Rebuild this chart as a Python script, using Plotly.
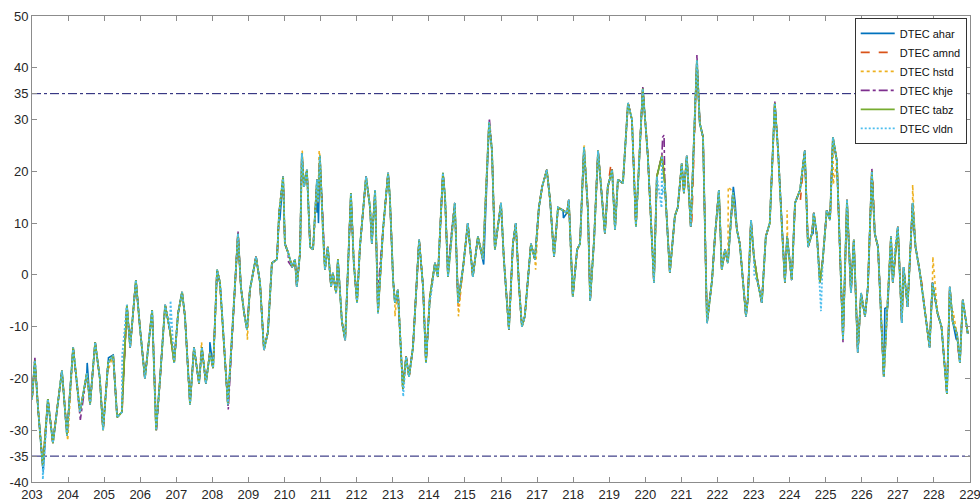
import plotly.graph_objects as go

# Day of year (x) and DTEC base values (tabz, the common curve)
days = [203.00, 203.08, 203.17, 203.30, 203.44, 203.58, 203.83, 203.97, 204.14, 204.33,
        204.52, 204.61, 204.75, 204.88, 204.97, 205.11, 205.25, 205.36, 205.49, 205.63,
        205.72, 205.88, 205.99, 206.13, 206.33, 206.44, 206.55, 206.69, 206.82, 206.94,
        207.05, 207.16, 207.24, 207.38, 207.49, 207.63, 207.71, 207.82, 207.93, 208.02,
        208.13, 208.21, 208.43, 208.57, 208.71, 208.79, 208.88, 208.96, 209.04, 209.21,
        209.32, 209.43, 209.54, 209.65, 209.79, 209.85, 209.96, 210.01, 210.10, 210.21,
        210.29, 210.34, 210.43, 210.48, 210.54, 210.62, 210.71, 210.79, 210.90, 210.93,
        210.98, 211.07, 211.12, 211.20, 211.29, 211.34, 211.43, 211.48, 211.59, 211.68,
        211.84, 211.92, 212.01, 212.09, 212.26, 212.37, 212.42, 212.51, 212.59, 212.73,
        212.87, 212.92, 213.01, 213.06, 213.14, 213.28, 213.37, 213.45, 213.56, 213.73,
        213.84, 213.92, 214.03, 214.17, 214.25, 214.39, 214.45, 214.53, 214.64, 214.72,
        214.81, 214.95, 215.08, 215.22, 215.36, 215.50, 215.67, 215.75, 215.83, 216.00,
        216.08, 216.22, 216.33, 216.41, 216.50, 216.58, 216.66, 216.83, 216.94, 217.05,
        217.14, 217.27, 217.36, 217.47, 217.58, 217.72, 217.83, 217.88, 217.99, 218.11,
        218.19, 218.30, 218.41, 218.47, 218.58, 218.69, 218.77, 218.88, 218.96, 219.08,
        219.16, 219.24, 219.38, 219.52, 219.63, 219.74, 219.93, 220.07, 220.24, 220.32,
        220.46, 220.54, 220.68, 220.82, 220.90, 221.01, 221.07, 221.15, 221.26, 221.43,
        221.51, 221.60, 221.71, 221.85, 221.93, 222.04, 222.12, 222.21, 222.29, 222.43,
        222.54, 222.62, 222.79, 222.84, 222.93, 223.01, 223.12, 223.23, 223.34, 223.45,
        223.59, 223.68, 223.79, 223.87, 223.93, 224.06, 224.15, 224.29, 224.42, 224.51,
        224.62, 224.67, 224.76, 224.84, 224.92, 225.03, 225.12, 225.20, 225.31, 225.48,
        225.59, 225.70, 225.78, 225.89, 225.98, 226.09, 226.17, 226.28, 226.36, 226.45,
        226.61, 226.72, 226.81, 226.86, 227.00, 227.11, 227.16, 227.27, 227.41, 227.49,
        227.60, 227.71, 227.88, 227.96, 228.10, 228.21, 228.36, 228.44, 228.52, 228.64,
        228.72, 228.80, 228.94]

tabz = [-24.0, -16.5, -26.0, -37.0, -24.0, -32.5, -18.5, -31.0, -14.0, -26.5,
        -19.0, -25.0, -13.0, -20.0, -30.0, -17.0, -15.5, -27.5, -26.5, -5.8,
        -14.0, -1.0, -10.0, -20.0, -6.8, -30.0, -20.0, -5.8, -10.6, -17.0,
        -7.4, -3.3, -8.0, -25.0, -14.0, -21.0, -14.0, -21.0, -15.0, -18.0,
        1.0, -1.5, -25.0, -9.0, 8.0, -2.3, -7.4, -10.6, -2.9, 3.5,
        -1.5, -14.5, -11.0, 2.3, 3.0, 12.0, 19.0, 6.0, 4.3, 1.5,
        3.0, -2.3, 4.3, 23.5, 17.0, 20.3, 5.4, 4.9, 18.4, 14.0,
        23.0, 7.4, 1.0, 5.4, -2.3, 0.4, -3.5, 3.0, -9.0, -12.6,
        15.8, 2.3, -5.4, 5.4, 19.0, 13.0, 6.0, 16.4, -7.4, 8.7,
        19.7, 15.0, -1.0, -5.4, -2.9, -22.0, -15.8, -19.7, -14.0, 6.8,
        -2.3, -17.0, -4.2, 2.3, -0.4, 19.7, 15.0, -0.4, 8.7, 13.9,
        -5.4, 1.5, 10.0, -0.4, 7.4, 3.0, 29.5, 24.0, 4.9, 13.9,
        3.0, -10.6, 6.0, 10.0, -2.3, -10.0, -8.0, 6.0, 3.0, 13.0,
        17.0, 20.3, 14.5, 3.5, 13.0, 12.5, 12.0, 14.5, -4.2, 4.9,
        6.0, 24.7, 12.5, -5.0, 6.8, 24.0, 17.7, 8.0, 17.0, 20.3,
        8.7, 18.4, 17.7, 33.2, 30.0, 9.3, 36.0, 23.0, -1.5, 19.0,
        23.0, 17.7, 0.4, 11.4, 13.0, 21.5, 15.8, 23.0, 9.3, 41.5,
        29.3, 26.6, -9.3, -1.0, 7.4, 16.4, 1.0, 4.9, 2.3, 16.0,
        8.7, 6.0, -8.0, -4.8, 10.6, 3.5, -1.5, -5.4, 7.4, 10.0,
        33.2, 24.0, 8.7, -1.5, 7.4, -1.0, 13.9, 16.4, 24.0, 5.4,
        8.0, 12.0, 7.4, -1.5, 3.0, 12.5, 10.6, 26.6, 22.0, -12.5,
        14.5, -3.5, 6.8, -15.0, -3.5, -8.0, -2.3, 20.0, 8.0, 5.4,
        -19.7, -6.2, 7.4, -1.5, 9.3, -9.3, 1.5, -6.2, 13.9, 5.4,
        1.0, -4.8, -14.0, -1.5, -7.4, -10.0, -23.0, -2.3, -9.0, -11.4,
        -17.0, -4.8, -11.4]

# Points where individual stations depart from the common curve (day, DTEC)
ahar_dev = [(203.31, -38.0), (204.53, -17.0), (205.12, -16.0), (207.07, -6.5), (207.93, -13.0),
            (209.87, 10.5), (210.90, 12.0), (210.94, 10.0), (213.29, -21.0), (215.52, 2.0),
            (217.73, 11.0), (222.44, 17.0), (222.49, 14.0), (223.32, 6.0), (224.65, 8.0),
            (226.64, -6.5), (227.42, 11.0), (228.62, -12.5)]
amnd_dev = [(203.60, -31.0), (205.50, -26.0), (208.44, -24.0), (211.30, -1.0), (214.82, -6.5),
            (219.05, 21.5), (221.29, 10.5), (222.79, -7.5), (224.30, 14.5), (226.30, 19.5),
            (227.70, -3.0), (228.65, -13.0)]
hstd_dev = [(203.99, -32.0), (205.11, -18.5), (207.70, -13.0), (208.97, -12.5), (210.49, 24.0),
            (210.96, 24.0), (212.41, 8.0), (213.06, -8.0), (214.82, -8.0), (216.96, 1.0),
            (218.31, 25.0), (220.51, 21.0), (222.30, 17.0), (223.93, 12.5), (223.95, 5.0),
            (225.21, 17.5), (227.41, 17.4), (227.97, 3.5), (228.53, -7.0)]
khje_dev = [(203.08, -16.0), (204.34, -28.0), (206.45, -30.0), (208.44, -26.0), (208.71, 8.5),
            (210.11, 2.5), (212.59, -3.0), (214.54, 2.0), (215.68, 30.0), (219.93, 36.3),
            (220.48, 26.6), (220.52, 27.0), (221.43, 42.5), (223.59, 33.5), (225.48, -13.0),
            (226.28, 20.5), (227.62, 0.0), (228.66, -13.5)]
vldn_dev = [(203.30, -39.5), (205.50, -15.5), (206.84, -5.0), (208.23, -3.0), (213.29, -23.5),
            (214.05, -4.5), (216.52, -4.0), (220.45, 13.0), (220.47, 15.5), (223.02, 0.0),
            (224.85, -4.3), (224.87, -7.0), (226.92, 5.0), (228.37, -21.0)]

station_names = ["ahar", "amnd", "hstd", "khje", "tabz", "vldn"]
station_devs = [ahar_dev, amnd_dev, hstd_dev, khje_dev, [], vldn_dev]
station_colors = ["#0072BD", "#D95319", "#EDB120", "#7E2F8E", "#77AC30", "#4DBEEE"]
station_dashes = ["solid", "dash", "dot", "dashdot", "solid", "2px,2px"]
station_widths = [1.6, 1.6, 1.6, 1.6, 1.8, 1.8]

threshold_levels = [35, -35]
x_ticks = list(range(203, 230))
y_ticks = [-40, -35, -30, -20, -10, 0, 10, 20, 30, 35, 40, 50]


def station_series(devs):
    pts = list(zip(days, tabz)) + list(devs)
    pts.sort(key=lambda p: p[0])
    return [p[0] for p in pts], [p[1] for p in pts]


fig = go.Figure()

for lvl in threshold_levels:
    fig.add_trace(go.Scatter(x=[203, 229], y=[lvl, lvl], mode="lines",
                             line=dict(color="#14146e", width=1, dash="dashdot"),
                             showlegend=False, hoverinfo="skip"))

for name, devs, col, dash, w in zip(station_names, station_devs, station_colors,
                                    station_dashes, station_widths):
    xs, ys = station_series(devs)
    fig.add_trace(go.Scatter(x=xs, y=ys, mode="lines", name="DTEC " + name,
                             line=dict(color=col, width=w, dash=dash)))

axis_common = dict(showgrid=False, zeroline=False, showline=True, linecolor="#8c8c8c",
                   linewidth=1, mirror="ticks", ticks="inside", ticklen=5,
                   tickcolor="#8c8c8c", automargin=False, ticklabeloverflow="allow",
                   tickfont=dict(family="Liberation Sans, Arial", size=13, color="#262626"))

fig.update_layout(
    width=980, height=502,
    margin=dict(l=32, r=10, t=16, b=20),
    paper_bgcolor="white", plot_bgcolor="white",
    xaxis=dict(range=[203, 229], tickvals=x_ticks, ticktext=[str(t) for t in x_ticks],
               **axis_common),
    yaxis=dict(range=[-40, 50], tickvals=y_ticks, ticktext=[str(t) for t in y_ticks],
               **axis_common),
    legend=dict(x=0.9965, y=0.996, xanchor="right", yanchor="top",
                bgcolor="white", bordercolor="#333333", borderwidth=1,
                font=dict(family="Liberation Sans, Arial", size=11, color="#111111"),
                tracegroupgap=0, itemwidth=34),
    showlegend=True,
)

fig.write_html("out.html", config={"displayModeBar": False},
               post_script="document.body.style.margin='0px';document.body.style.padding='0px';")
